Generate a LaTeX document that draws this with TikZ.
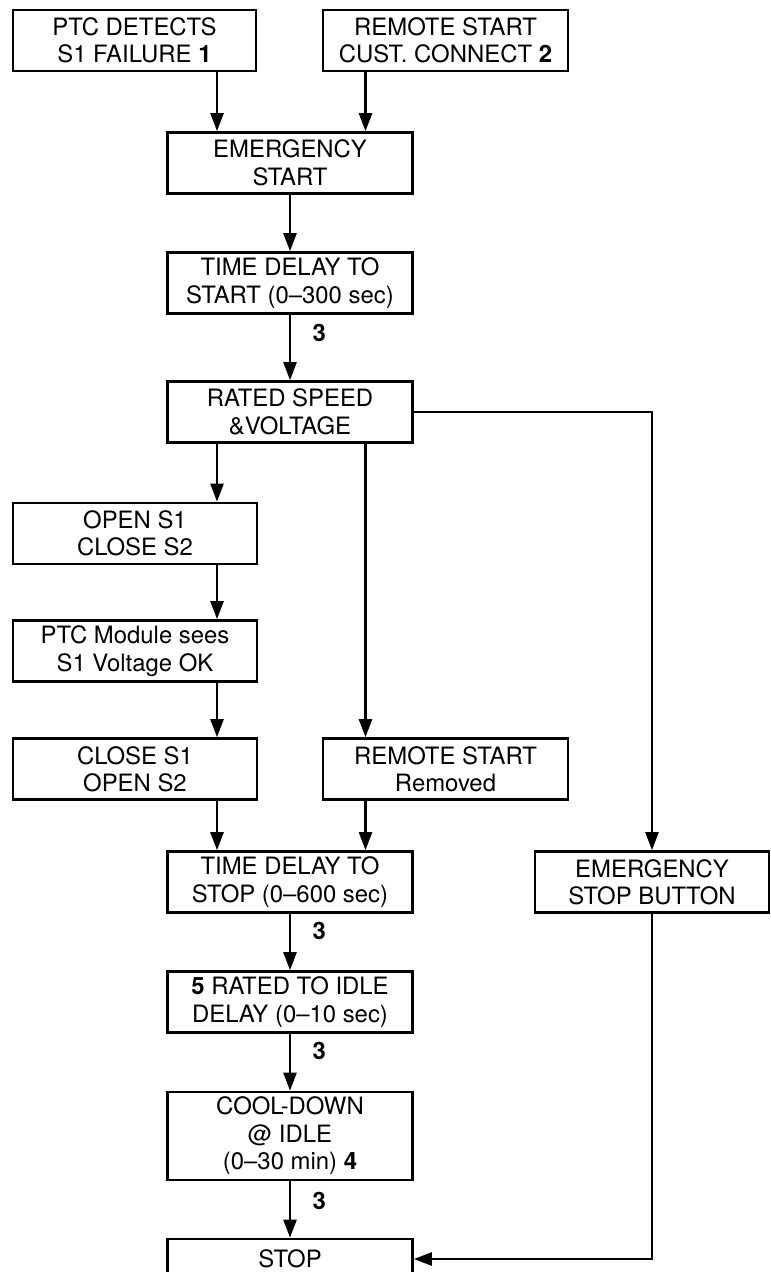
\documentclass[tikz,border=0pt]{standalone}
\usepackage{fontspec}
\setmainfont{TeX Gyre Heros}
\usetikzlibrary{arrows.meta,positioning}
\tikzset{
  stepcard/.style={draw=black,fill=white,line width=1.5pt,align=center,
                   minimum width=4.9cm,minimum height=1.22cm,inner sep=2pt,
                   font=\fontsize{13.6}{15.6}\selectfont},
  flowarr/.style={-{Triangle[length=0.36cm,width=0.26cm]},line width=1.4pt},
  steplbl/.style={font=\fontsize{13.6}{15.6}\selectfont\bfseries,inner sep=0pt}
}

\begin{document}
\begin{tikzpicture}
  \useasboundingbox (0,0) rectangle (15.4,-25.44);
  \clip (0,0) rectangle (15.4,-25.44);
  \coordinate (lx) at (4.34,0);
  \coordinate (rx) at (7.31,0);
  % start requests
  \node[stepcard,minimum width=4.86cm] (ptcfail) at (2.69,-0.81)
    {PTC DETECTS\\S1 FAILURE \textbf{1}};
  \node[stepcard] (remstart) at (8.91,-0.81)
    {REMOTE START\\CUST. CONNECT \textbf{2}};
  \node[stepcard] (emstart) at (5.80,-3.26) {EMERGENCY\\START};
  \node[stepcard] (tdstart) at (5.80,-5.66) {TIME DELAY TO\\START (0--300 sec)};
  \node[stepcard] (rated) at (5.80,-8.24) {RATED SPEED\\\&VOLTAGE};
  % transfer branch
  \node[stepcard,minimum width=4.88cm] (opens1) at (2.70,-10.67) {OPEN S1\\CLOSE S2};
  \node[stepcard,minimum width=4.88cm] (ptcok) at (2.70,-13.02)
    {PTC Module sees\\S1 Voltage OK};
  \node[stepcard,minimum width=4.88cm] (closes1) at (2.70,-15.38) {CLOSE S1\\OPEN S2};
  \node[stepcard] (remoff) at (8.91,-15.38) {REMOTE START\\Removed};
  \node[stepcard,minimum width=4.68cm] (estop) at (13.04,-17.64)
    {EMERGENCY\\STOP BUTTON};
  % stop sequence
  \node[stepcard] (tdstop) at (5.80,-17.64) {TIME DELAY TO\\STOP (0--600 sec)};
  \node[stepcard] (ratedidle) at (5.80,-20.04)
    {\textbf{5} RATED TO IDLE\\DELAY (0--10 sec)};
  \node[stepcard,minimum height=1.76cm] (cooldown) at (5.80,-22.72)
    {COOL-DOWN\\@ IDLE\\(0--30 min) \textbf{4}};
  \node[stepcard,minimum height=0.8cm] (stop) at (5.80,-25.18) {STOP};

  \draw[flowarr] (ptcfail.south -| lx) -- (emstart.north -| lx);
  \draw[flowarr] (remstart.south -| rx) -- (emstart.north -| rx);
  \draw[flowarr] (emstart) -- (tdstart);
  \draw[flowarr] (tdstart) -- node[steplbl,pos=0.28,right=0.43cm] {3} (rated);
  \draw[flowarr] (rated.south -| lx) -- (opens1.north -| lx);
  \draw[flowarr] (opens1.south -| lx) -- (ptcok.north -| lx);
  \draw[flowarr] (ptcok.south -| lx) -- (closes1.north -| lx);
  \draw[flowarr] (closes1.south -| lx) -- (tdstop.north -| lx);
  \draw[flowarr] (rated.south -| rx) -- (remoff.north -| rx);
  \draw[flowarr] (remoff.south -| rx) -- (tdstop.north -| rx);
  \draw[flowarr] (rated.east) -| (estop.north);
  \draw[flowarr] (tdstop) -- node[steplbl,pos=0.3,right=0.43cm] {3} (ratedidle);
  \draw[flowarr] (ratedidle) -- node[steplbl,pos=0.3,right=0.43cm] {3} (cooldown);
  \draw[flowarr] (cooldown) -- node[steplbl,pos=0.34,right=0.43cm] {3} (stop);
  \draw[flowarr] (estop.south) |- (stop.east);
\end{tikzpicture}
\end{document}
